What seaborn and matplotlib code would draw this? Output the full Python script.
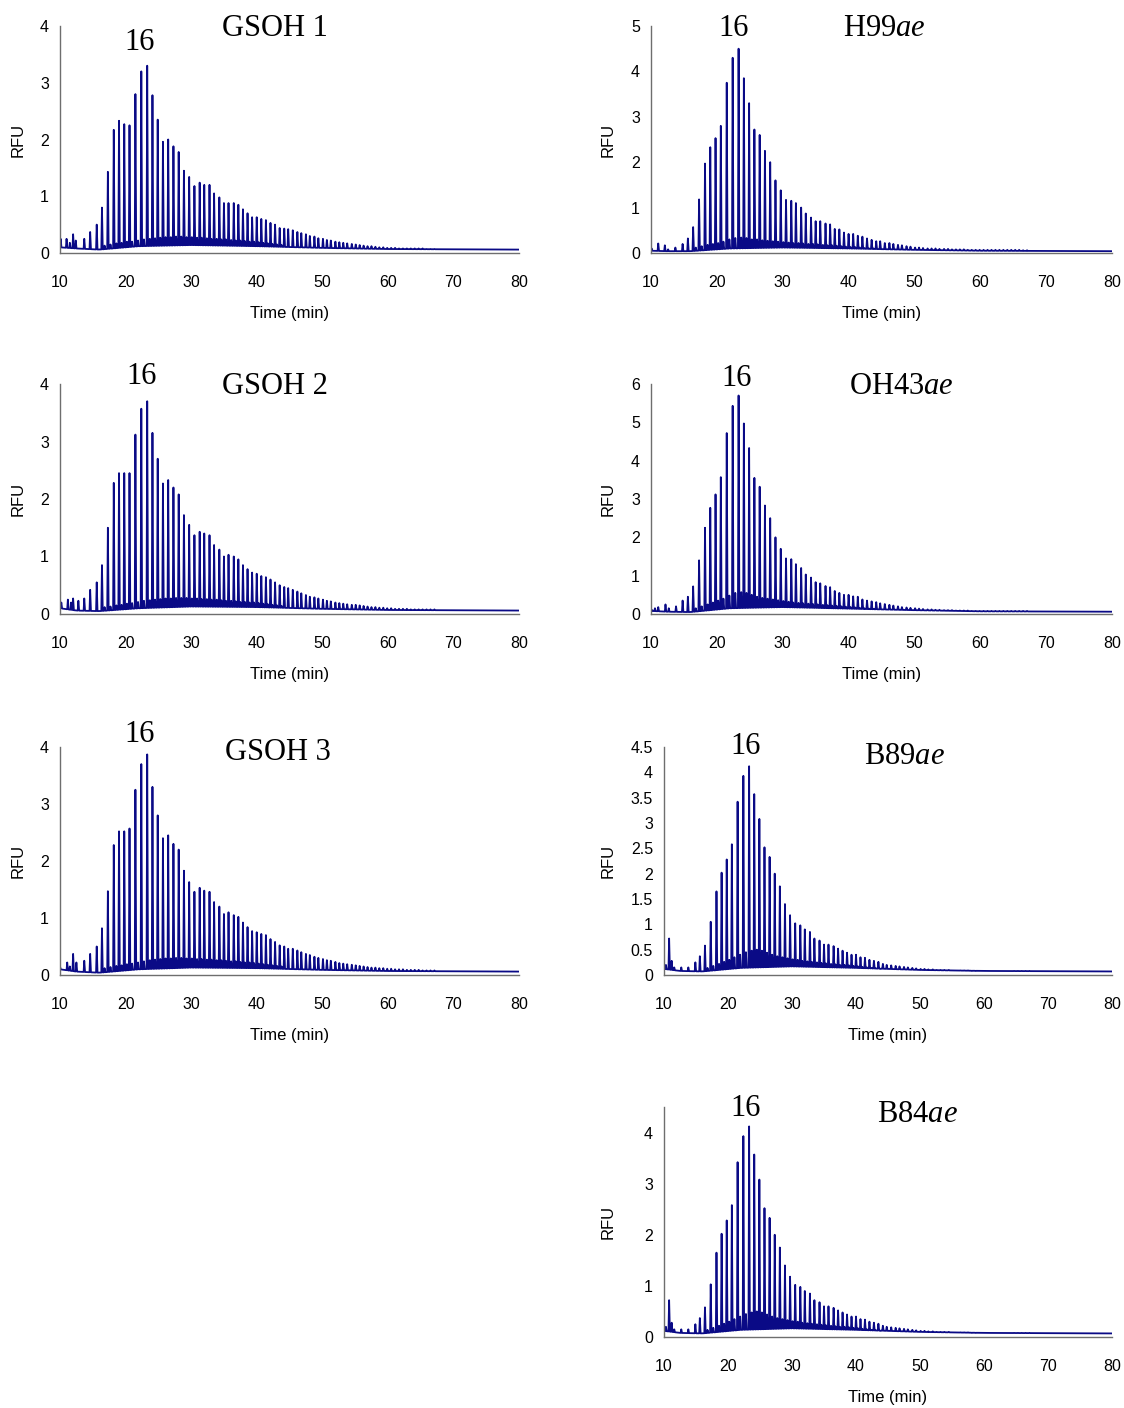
import numpy as np
import pandas as pd
import matplotlib
matplotlib.use("Agg")
import matplotlib.pyplot as plt
from matplotlib.ticker import FuncFormatter
import seaborn as sns

# ---------------- data ----------------
# retention times (min) of the main oligomer series, shared by all panels
main_times = [15.6, 16.4, 17.3, 18.2, 19.0, 19.8, 20.6, 21.5, 22.4, 23.3,
              24.1, 24.9, 25.7, 26.5, 27.3, 28.1, 28.9, 29.7, 30.5, 31.3,
              32.0, 32.8, 33.5, 34.3, 35.0, 35.7, 36.5, 37.2, 37.9, 38.6,
              39.3, 40.0, 40.7, 41.4, 42.1, 42.8, 43.5, 44.2, 44.8, 45.5,
              46.2, 46.8, 47.5, 48.1, 48.8, 49.4, 50.1, 50.7, 51.3, 52.0,
              52.6, 53.2, 53.8, 54.5, 55.1, 55.7, 56.3, 56.9, 57.5, 58.1,
              58.7, 59.3, 59.9, 60.5, 61.1, 61.7, 62.3, 62.9, 63.5, 64.1,
              64.7, 65.3, 65.9, 66.5, 67.1]
# minor (in-between) peaks forming the low hump
minor_times = [16.8, 17.7, 18.6, 19.4, 20.2, 21.0, 21.9, 22.8, 23.7, 24.5,
               25.3, 26.1, 26.9, 27.7, 28.5, 29.3, 30.1, 30.9, 31.6, 32.4,
               33.1, 33.9, 34.6, 35.3, 36.1, 36.8, 37.5, 38.2, 38.9, 39.6,
               40.3, 41.0, 41.7, 42.4, 43.1, 43.8]
baseline_knots = [10, 12.5, 16, 22, 30, 40, 50, 60, 80]

# ---- GSOH 1
gsoh1_main = [0.5, 0.8, 1.43, 2.17, 2.33, 2.27, 2.25, 2.8, 3.2, 3.3,
              2.78, 2.35, 1.96, 2.0, 1.88, 1.78, 1.45, 1.34, 1.18, 1.24,
              1.2, 1.2, 1.05, 0.98, 0.88, 0.88, 0.88, 0.85, 0.77, 0.7,
              0.63, 0.63, 0.6, 0.58, 0.53, 0.5, 0.44, 0.43, 0.42, 0.4,
              0.37, 0.35, 0.33, 0.3, 0.29, 0.26, 0.25, 0.23, 0.22, 0.2,
              0.19, 0.18, 0.17, 0.16, 0.15, 0.14, 0.13, 0.12, 0.12, 0.11,
              0.1, 0.1, 0.09, 0.09, 0.09, 0.08, 0.08, 0.08, 0.08, 0.08,
              0.08, 0.08, 0.07, 0.07, 0.07]
gsoh1_minor = [0.13, 0.15, 0.17, 0.18, 0.2, 0.2, 0.22, 0.24, 0.25, 0.26,
               0.27, 0.28, 0.28, 0.29, 0.29, 0.28, 0.28, 0.27, 0.27, 0.26,
               0.25, 0.25, 0.24, 0.24, 0.23, 0.22, 0.22, 0.21, 0.2, 0.2,
               0.19, 0.18, 0.17, 0.16, 0.15, 0.14]
gsoh1_early_t = [10.1, 11.0, 11.5, 12.0, 12.4, 13.7, 14.6]
gsoh1_early_h = [0.25, 0.25, 0.18, 0.33, 0.22, 0.25, 0.37]
gsoh1_base = [0.1, 0.08, 0.06, 0.12, 0.14, 0.12, 0.09, 0.07, 0.06]

# ---- GSOH 2
gsoh2_main = [0.55, 0.85, 1.5, 2.28, 2.45, 2.45, 2.45, 3.12, 3.57, 3.7,
              3.15, 2.7, 2.27, 2.33, 2.2, 2.08, 1.72, 1.55, 1.37, 1.43,
              1.4, 1.37, 1.2, 1.12, 1.0, 1.03, 1.0, 0.95, 0.85, 0.78,
              0.72, 0.7, 0.66, 0.64, 0.6, 0.55, 0.5, 0.47, 0.45, 0.42,
              0.39, 0.36, 0.33, 0.3, 0.29, 0.27, 0.25, 0.23, 0.22, 0.2,
              0.19, 0.18, 0.17, 0.16, 0.16, 0.15, 0.14, 0.13, 0.12, 0.12,
              0.11, 0.11, 0.1, 0.1, 0.09, 0.09, 0.09, 0.09, 0.08, 0.08,
              0.08, 0.08, 0.08, 0.08, 0.08]
gsoh2_minor = [0.12, 0.13, 0.15, 0.16, 0.18, 0.19, 0.21, 0.23, 0.24, 0.25,
               0.26, 0.27, 0.27, 0.28, 0.28, 0.28, 0.27, 0.27, 0.26, 0.26,
               0.25, 0.25, 0.24, 0.23, 0.23, 0.22, 0.21, 0.21, 0.2, 0.2,
               0.19, 0.18, 0.17, 0.16, 0.15, 0.14]
gsoh2_early_t = [10.2, 11.2, 11.7, 12.0, 12.8, 13.7, 14.6]
gsoh2_early_h = [0.2, 0.25, 0.2, 0.27, 0.23, 0.27, 0.42]
gsoh2_base = [0.1, 0.06, 0.05, 0.1, 0.13, 0.12, 0.09, 0.07, 0.06]

# ---- GSOH 3
gsoh3_main = [0.5, 0.82, 1.47, 2.28, 2.52, 2.52, 2.57, 3.25, 3.7, 3.87,
              3.3, 2.8, 2.4, 2.45, 2.3, 2.2, 1.83, 1.63, 1.46, 1.53,
              1.48, 1.46, 1.28, 1.2, 1.07, 1.1, 1.05, 1.02, 0.92, 0.84,
              0.77, 0.75, 0.72, 0.7, 0.63, 0.58, 0.52, 0.5, 0.46, 0.46,
              0.43, 0.4, 0.37, 0.35, 0.32, 0.3, 0.28, 0.26, 0.25, 0.23,
              0.21, 0.2, 0.19, 0.18, 0.17, 0.16, 0.15, 0.14, 0.13, 0.13,
              0.12, 0.12, 0.11, 0.11, 0.1, 0.1, 0.1, 0.09, 0.09, 0.09,
              0.09, 0.08, 0.08, 0.08, 0.08]
gsoh3_minor = [0.12, 0.14, 0.16, 0.17, 0.19, 0.2, 0.22, 0.24, 0.26, 0.27,
               0.28, 0.29, 0.29, 0.3, 0.3, 0.29, 0.29, 0.28, 0.28, 0.27,
               0.27, 0.26, 0.26, 0.25, 0.24, 0.24, 0.23, 0.22, 0.22, 0.21,
               0.2, 0.19, 0.18, 0.17, 0.16, 0.15]
gsoh3_early_t = [10.0, 11.1, 11.5, 12.0, 12.5, 13.7, 14.6]
gsoh3_early_h = [0.15, 0.22, 0.15, 0.37, 0.22, 0.25, 0.37]
gsoh3_base = [0.1, 0.06, 0.04, 0.1, 0.13, 0.12, 0.09, 0.07, 0.06]

# ---- H99ae
h99_main = [0.32, 0.57, 1.18, 1.97, 2.33, 2.53, 2.8, 3.75, 4.3, 4.5,
            3.85, 3.3, 2.72, 2.6, 2.25, 2.0, 1.6, 1.38, 1.17, 1.15,
            1.1, 1.0, 0.87, 0.78, 0.7, 0.7, 0.65, 0.63, 0.53, 0.52,
            0.45, 0.42, 0.42, 0.38, 0.36, 0.32, 0.29, 0.26, 0.26, 0.22,
            0.22, 0.2, 0.18, 0.17, 0.15, 0.14, 0.12, 0.12, 0.11, 0.1,
            0.1, 0.1, 0.09, 0.09, 0.09, 0.08, 0.08, 0.08, 0.08, 0.07,
            0.07, 0.07, 0.07, 0.07, 0.07, 0.07, 0.07, 0.07, 0.07, 0.07,
            0.07, 0.07, 0.07, 0.06, 0.06]
h99_minor = [0.12, 0.15, 0.18, 0.2, 0.22, 0.25, 0.3, 0.33, 0.34, 0.33,
             0.3, 0.3, 0.28, 0.27, 0.26, 0.25, 0.24, 0.23, 0.22, 0.22,
             0.21, 0.2, 0.2, 0.19, 0.18, 0.17, 0.17, 0.16, 0.15, 0.14,
             0.13, 0.13, 0.12, 0.11, 0.1, 0.1]
h99_early_t = [10.1, 11.1, 12.1, 12.6, 13.7, 14.8]
h99_early_h = [0.1, 0.21, 0.17, 0.08, 0.12, 0.2]
h99_base = [0.05, 0.04, 0.04, 0.1, 0.12, 0.1, 0.07, 0.05, 0.04]

# ---- OH43ae
oh43_main = [0.45, 0.72, 1.4, 2.25, 2.77, 3.12, 3.57, 4.72, 5.43, 5.7,
             4.97, 4.33, 3.55, 3.32, 2.83, 2.5, 2.0, 1.7, 1.45, 1.43,
             1.3, 1.2, 1.03, 0.95, 0.83, 0.8, 0.73, 0.7, 0.6, 0.55,
             0.5, 0.5, 0.46, 0.45, 0.38, 0.35, 0.33, 0.31, 0.28, 0.26,
             0.24, 0.22, 0.2, 0.18, 0.17, 0.16, 0.15, 0.14, 0.13, 0.12,
             0.12, 0.11, 0.11, 0.1, 0.1, 0.1, 0.09, 0.09, 0.09, 0.09,
             0.08, 0.08, 0.08, 0.08, 0.08, 0.08, 0.08, 0.08, 0.08, 0.08,
             0.08, 0.08, 0.08, 0.08, 0.08]
oh43_minor = [0.15, 0.2, 0.25, 0.3, 0.35, 0.4, 0.48, 0.55, 0.57, 0.55,
              0.5, 0.45, 0.42, 0.4, 0.38, 0.36, 0.34, 0.32, 0.3, 0.29,
              0.28, 0.27, 0.26, 0.25, 0.24, 0.23, 0.22, 0.21, 0.2, 0.19,
              0.18, 0.17, 0.16, 0.15, 0.14, 0.13]
oh43_early_t = [10.2, 10.6, 11.1, 12.2, 12.7, 13.8, 14.8]
oh43_early_h = [0.1, 0.15, 0.18, 0.25, 0.15, 0.2, 0.35]
oh43_base = [0.08, 0.06, 0.05, 0.15, 0.18, 0.14, 0.1, 0.07, 0.06]

# ---- B89ae
b89_main = [0.37, 0.58, 1.05, 1.65, 2.02, 2.28, 2.58, 3.42, 3.93, 4.12,
            3.57, 3.08, 2.52, 2.33, 2.0, 1.75, 1.4, 1.18, 1.02, 0.98,
            0.9, 0.85, 0.72, 0.68, 0.6, 0.6, 0.57, 0.52, 0.48, 0.44,
            0.4, 0.4, 0.35, 0.34, 0.3, 0.28, 0.26, 0.22, 0.2, 0.19,
            0.18, 0.17, 0.16, 0.15, 0.14, 0.13, 0.12, 0.12, 0.11, 0.11,
            0.1, 0.1, 0.1, 0.1, 0.09, 0.09, 0.09, 0.09, 0.09, 0.08,
            0.08, 0.08, 0.08, 0.08, 0.08, 0.08, 0.08, 0.08, 0.08, 0.08,
            0.08, 0.08, 0.08, 0.08, 0.08]
b89_minor = [0.14, 0.18, 0.22, 0.26, 0.3, 0.35, 0.4, 0.45, 0.48, 0.5,
             0.48, 0.44, 0.4, 0.37, 0.35, 0.33, 0.31, 0.3, 0.28, 0.27,
             0.26, 0.25, 0.24, 0.23, 0.22, 0.21, 0.2, 0.2, 0.19, 0.18,
             0.17, 0.16, 0.15, 0.14, 0.13, 0.12]
b89_early_t = [10.3, 10.8, 11.2, 11.6, 12.7, 13.8, 14.9]
b89_early_h = [0.2, 0.72, 0.28, 0.15, 0.15, 0.15, 0.25]
b89_base = [0.12, 0.08, 0.07, 0.14, 0.17, 0.14, 0.1, 0.08, 0.07]

# ---- B84ae
b84_main = [0.37, 0.58, 1.03, 1.65, 2.02, 2.28, 2.58, 3.42, 3.93, 4.12,
            3.57, 3.08, 2.52, 2.33, 2.0, 1.75, 1.4, 1.18, 1.02, 0.98,
            0.9, 0.85, 0.72, 0.68, 0.6, 0.6, 0.57, 0.52, 0.48, 0.44,
            0.4, 0.4, 0.35, 0.34, 0.3, 0.28, 0.26, 0.22, 0.2, 0.19,
            0.18, 0.17, 0.16, 0.15, 0.14, 0.13, 0.12, 0.12, 0.11, 0.11,
            0.1, 0.1, 0.1, 0.1, 0.09, 0.09, 0.09, 0.09, 0.09, 0.08,
            0.08, 0.08, 0.08, 0.08, 0.08, 0.08, 0.08, 0.08, 0.08, 0.08,
            0.08, 0.08, 0.08, 0.08, 0.08]
b84_minor = [0.14, 0.18, 0.22, 0.26, 0.3, 0.35, 0.4, 0.45, 0.48, 0.5,
             0.48, 0.44, 0.4, 0.37, 0.35, 0.33, 0.31, 0.3, 0.28, 0.27,
             0.26, 0.25, 0.24, 0.23, 0.22, 0.21, 0.2, 0.2, 0.19, 0.18,
             0.17, 0.16, 0.15, 0.14, 0.13, 0.12]
b84_early_t = [10.3, 10.8, 11.2, 11.6, 12.7, 13.8, 14.9]
b84_early_h = [0.2, 0.72, 0.28, 0.15, 0.15, 0.15, 0.25]
b84_base = [0.12, 0.08, 0.07, 0.14, 0.17, 0.14, 0.1, 0.08, 0.07]

panel_titles = ["GSOH 1", "GSOH 2", "GSOH 3",
                r"H99$\mathit{ae}$", r"OH43$\mathit{ae}$",
                r"B89$\mathit{ae}$", r"B84$\mathit{ae}$"]
peak_label = "16"
x_ticks = [10, 20, 30, 40, 50, 60, 70, 80]

# ---------------- styling ----------------
sns.set_theme(style="white")
plt.rcParams["font.family"] = ["Liberation Sans", "DejaVu Sans"]
plt.rcParams["text.color"] = "black"
plt.rcParams["axes.labelcolor"] = "black"
plt.rcParams["mathtext.fontset"] = "custom"
plt.rcParams["mathtext.rm"] = "Liberation Serif"
plt.rcParams["mathtext.it"] = "Liberation Serif:italic"

W, H = 1124, 1408
fig = plt.figure(figsize=(W / 100, H / 100), dpi=100)
fig.patch.set_facecolor("white")

LINE = "#0a0a86"
AXC = "#6e6e6e"

panels = [
    dict(main=gsoh1_main, minor=gsoh1_minor, et=gsoh1_early_t, eh=gsoh1_early_h, base=gsoh1_base,
         box=(60, 519, 26, 253), ymax=4, step=1, tpos=(275, 29), ppos=(140, 43), ylx=20),
    dict(main=gsoh2_main, minor=gsoh2_minor, et=gsoh2_early_t, eh=gsoh2_early_h, base=gsoh2_base,
         box=(60, 519, 384, 614), ymax=4, step=1, tpos=(275, 386), ppos=(142, 377), ylx=20),
    dict(main=gsoh3_main, minor=gsoh3_minor, et=gsoh3_early_t, eh=gsoh3_early_h, base=gsoh3_base,
         box=(60, 519, 747, 975), ymax=4, step=1, tpos=(278, 752), ppos=(140, 735), ylx=20),
    dict(main=h99_main, minor=h99_minor, et=h99_early_t, eh=h99_early_h, base=h99_base,
         box=(651, 1112, 26, 253), ymax=5, step=1, tpos=(884, 28), ppos=(734, 28), ylx=610),
    dict(main=oh43_main, minor=oh43_minor, et=oh43_early_t, eh=oh43_early_h, base=oh43_base,
         box=(651, 1112, 384, 614), ymax=6, step=1, tpos=(901, 387), ppos=(737, 378), ylx=610),
    dict(main=b89_main, minor=b89_minor, et=b89_early_t, eh=b89_early_h, base=b89_base,
         box=(664, 1112, 747, 975), ymax=4.5, step=0.5, tpos=(904, 756), ppos=(746, 746), ylx=610),
    dict(main=b84_main, minor=b84_minor, et=b84_early_t, eh=b84_early_h, base=b84_base,
         box=(664, 1112, 1107, 1337), ymax=4.5, step=1, tpos=(917, 1114), ppos=(746, 1109), ylx=610),
]


def build_trace(p):
    t = np.concatenate([p["et"], main_times, minor_times])
    h = np.concatenate([p["eh"], p["main"], p["minor"]])
    order = np.argsort(t)
    t, h = t[order], h[order]
    base = lambda x: np.interp(x, baseline_knots, p["base"])
    xs, ys = [10.0], [float(base(10.0))]
    for ti, hi in zip(t, h):
        xs += [ti - 0.10, ti, ti + 0.12]
        ys += [float(base(ti - 0.10)), hi, float(base(ti + 0.12))]
    xs.append(80.0)
    ys.append(float(base(80.0)))
    return pd.DataFrame({"Time (min)": xs, "RFU": ys})


for title, p in zip(panel_titles, panels):
    x0, x1, yt, yb = p["box"]
    ax = fig.add_axes([x0 / W, 1 - yb / H, (x1 - x0) / W, (yb - yt) / H])
    df = build_trace(p)
    sns.lineplot(data=df, x="Time (min)", y="RFU", ax=ax, estimator=None, sort=False,
                 color=LINE, linewidth=1.3)
    ax.set_xlim(10, 80)
    ax.set_ylim(0, p["ymax"])
    ax.set_xticks(x_ticks)
    if p["ymax"] == 4.5 and p["step"] == 1:
        yt_vals = np.arange(0, 4.01, 1)
    else:
        yt_vals = np.arange(0, p["ymax"] + 0.001, p["step"])
    ax.set_yticks(yt_vals)
    ax.yaxis.set_major_formatter(FuncFormatter(lambda v, pos: "%g" % v))
    for s in ["top", "right"]:
        ax.spines[s].set_visible(False)
    for s in ["left", "bottom"]:
        ax.spines[s].set_color(AXC)
        ax.spines[s].set_linewidth(1.0)
    ax.tick_params(axis="both", direction="in", length=4, width=1, color=AXC,
                   labelsize=11.5, labelcolor="black")
    ax.tick_params(axis="x", pad=16)
    ax.tick_params(axis="y", pad=8)
    ax.set_xlabel("Time (min)", fontsize=12, color="black")
    ax.set_ylabel("RFU", fontsize=12, color="black")
    wpx, hpx = (x1 - x0), (yb - yt)
    ax.xaxis.set_label_coords(0.5, -53 / hpx)
    ax.yaxis.set_label_coords((p["ylx"] + 6 - x0) / wpx, 0.5)
    ax.grid(False)
    ax.set_facecolor("white")

    fig.text(p["tpos"][0] / W, 1 - p["tpos"][1] / H, title, ha="center", va="center",
             fontsize=22, family="Liberation Serif", color="black")
    fig.text(p["ppos"][0] / W, 1 - p["ppos"][1] / H, peak_label, ha="center", va="center",
             fontsize=22, family="Liberation Serif", color="black")

fig.savefig("out.png", dpi=100, facecolor="white")
